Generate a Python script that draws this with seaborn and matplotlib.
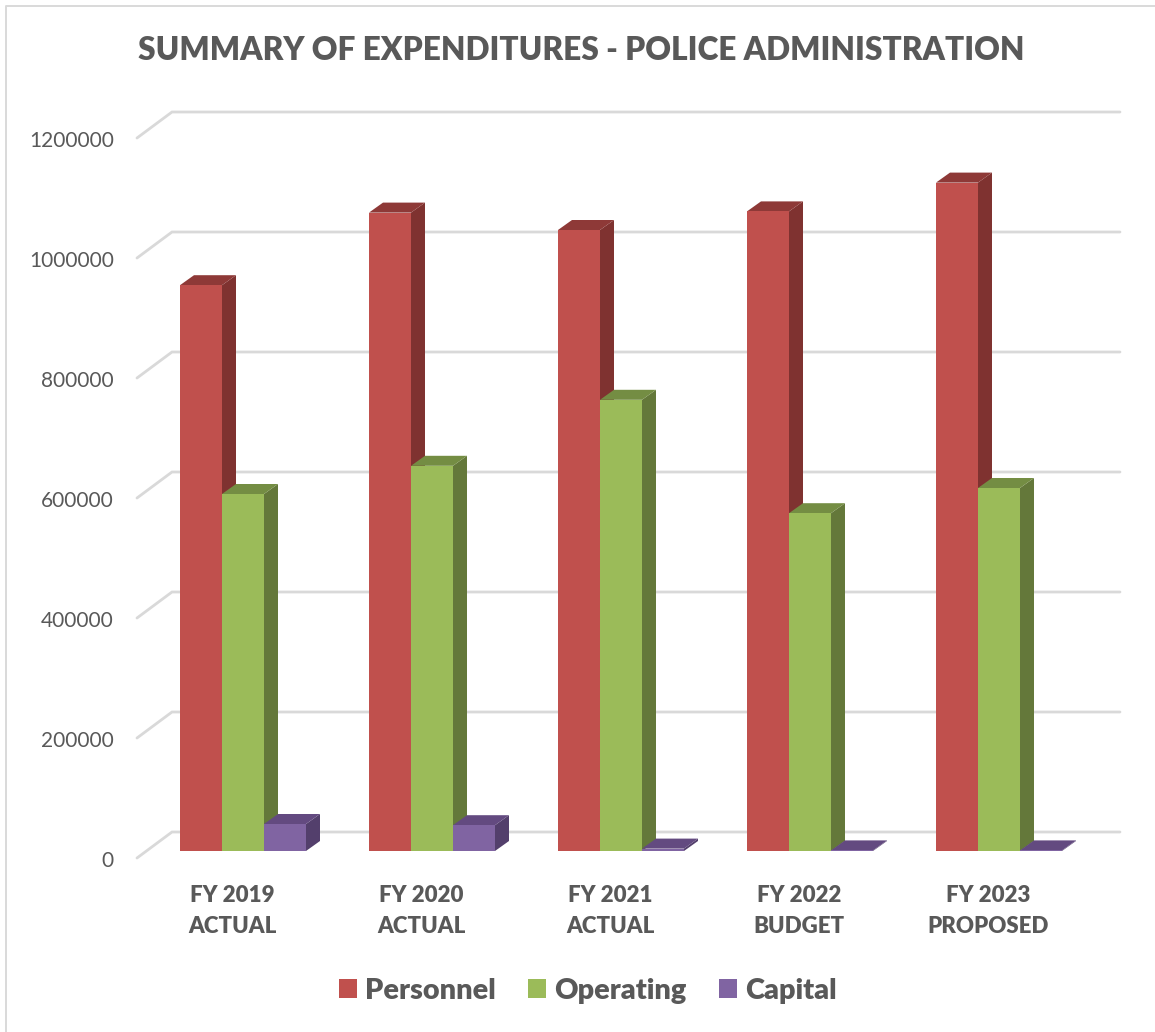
import matplotlib
matplotlib.use("Agg")
import matplotlib.pyplot as plt
from matplotlib.patches import Polygon, Patch
from matplotlib.transforms import ScaledTranslation
import numpy as np
import pandas as pd
import seaborn as sns

# Expenditure figures by fiscal year
years = ["FY 2019\nACTUAL", "FY 2020\nACTUAL", "FY 2021\nACTUAL", "FY 2022\nBUDGET", "FY 2023\nPROPOSED"]
personnel = [943000, 1064000, 1035000, 1066000, 1114000]
operating = [595000, 642000, 752000, 563000, 605000]
capital = [45000, 43000, 4000, 1000, 1000]
y_ticks = [0, 200000, 400000, 600000, 800000, 1000000, 1200000]

series_names = ["Personnel", "Operating", "Capital"]
front_colors = ["#C0504D", "#9BBB59", "#8064A2"]
side_colors = ["#7F3230", "#64783A", "#533F6C"]
top_colors = ["#8E3937", "#748D43", "#634A80"]

TEXT = "#595959"
GRID = "#D9D9D9"
W, H = 1155, 1032

# Pixel layout of the plotting region
left_px, right_px, base_px = 137, 1120, 851
px_per_unit = 0.0006
group_px = 189
first_center_px = 243
top_px = 100

sns.set_theme(style="white")
plt.rcParams["font.family"] = ["Lato", "DejaVu Sans"]

fig = plt.figure(figsize=(W / 100, H / 100), dpi=100, facecolor="white")
ax = fig.add_axes([left_px / W, 1 - base_px / H, (right_px - left_px) / W, (base_px - top_px) / H])

df = pd.DataFrame({
    "year": years * 3,
    "series": np.repeat(series_names, len(years)),
    "value": personnel + operating + capital,
})
sns.barplot(data=df, x="year", y="value", hue="series", hue_order=series_names,
            palette=front_colors, width=126 / group_px, gap=0, saturation=1,
            legend=False, errorbar=None, ax=ax, linewidth=0)

ax.set_xlim((left_px - first_center_px) / group_px, (right_px - first_center_px) / group_px)
ax.set_ylim(0, (base_px - top_px) / px_per_unit)

# Projected depth of the columns and of the wall behind them, in data units
bar_dx, bar_dy = 14 / group_px, 10 / px_per_unit
wall_dx, wall_dy = 35 / group_px, 26 / px_per_unit
front_drop = 7 / px_per_unit
x0 = ax.get_xlim()[0]

# Side and top faces for each column, layered so nearer series cover earlier ones
n = len(years)
for s, name in enumerate(series_names):
    for patch in ax.patches[s * n:(s + 1) * n]:
        xl, w, h = patch.get_x(), patch.get_width(), patch.get_height()
        xr = xl + w
        patch.set_zorder(3 + s + 0.5)
        side = [(xr, 0), (xr + bar_dx, bar_dy), (xr + bar_dx, h + bar_dy), (xr, h)]
        top = [(xl, h), (xl + bar_dx, h + bar_dy), (xr + bar_dx, h + bar_dy), (xr, h)]
        ax.add_patch(Polygon(side, closed=True, fc=side_colors[s], ec="none", zorder=3 + s, clip_on=False))
        ax.add_patch(Polygon(top, closed=True, fc=top_colors[s], ec="none", zorder=3 + s + 0.1, clip_on=False))

# Gridlines run along the back wall and bend forward to the axis
for v in y_ticks:
    ax.plot([x0, x0 + wall_dx, ax.get_xlim()[1]],
            [v - front_drop, v - front_drop + wall_dy, v - front_drop + wall_dy],
            color=GRID, lw=2.0, solid_capstyle="round", solid_joinstyle="miter",
            zorder=1, clip_on=False)

for sp in ax.spines.values():
    sp.set_visible(False)
ax.set_xlabel("")
ax.set_ylabel("")
ax.set_yticks(y_ticks)
ax.set_yticklabels([str(v) for v in y_ticks])
ax.tick_params(axis="both", length=0)
ax.tick_params(axis="y", labelsize=15, labelcolor=TEXT, pad=0)

# Axis labels are shifted off the data positions by fixed pixel offsets
for label in ax.get_yticklabels():
    label.set_transform(label.get_transform() + ScaledTranslation(-23 / 100, -8 / 100, fig.dpi_scale_trans))
ax.set_xticks(range(n))
ax.set_xticklabels(years, fontsize=16, fontweight="heavy", color=TEXT, linespacing=1.58)
for label in ax.get_xticklabels():
    label.set_transform(label.get_transform() + ScaledTranslation(-11 / 100, -29.5 / 100, fig.dpi_scale_trans))

fig.text(581.5 / W, 1 - 51 / H, "SUMMARY OF EXPENDITURES - POLICE ADMINISTRATION",
         ha="center", va="center", fontsize=22.8, fontweight="heavy", color=TEXT)

handles = [Patch(fc=c, ec="none") for c in front_colors]
fig.legend(handles, series_names, loc="center", bbox_to_anchor=(587.5 / W, 1 - 991 / H),
           ncol=3, frameon=False, prop={"size": 20.8, "weight": "heavy"}, labelcolor=TEXT,
           handlelength=0.63, handleheight=0.63, handletextpad=0.27, columnspacing=1.13)

# Thin chart frame along the left and top edges
fig.add_artist(plt.Line2D([6 / W, 6 / W, 1], [0, 1 - 6 / H, 1 - 6 / H], color=GRID, lw=1.4))

fig.savefig("out.png", dpi=100, facecolor="white")
